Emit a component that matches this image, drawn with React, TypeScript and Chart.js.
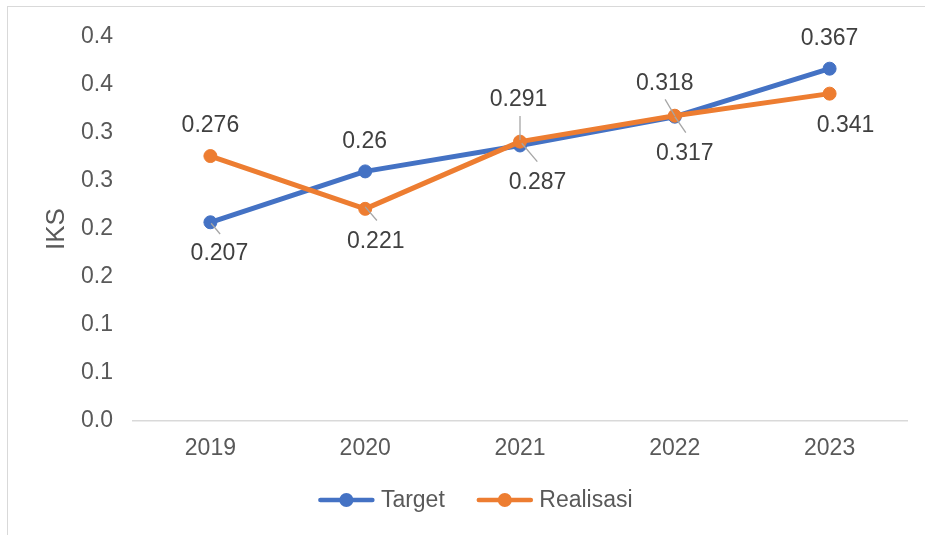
import React, { useEffect, useRef } from 'react';
import { Chart, registerables } from 'chart.js';

Chart.register(...registerables);

// ---- data ----
const categories = ['2019', '2020', '2021', '2022', '2023'];
const targetValues = [0.207, 0.26, 0.287, 0.317, 0.367];
const realisasiValues = [0.276, 0.221, 0.291, 0.318, 0.341];
const yTickLabels = ['0.0', '0.1', '0.1', '0.2', '0.2', '0.3', '0.3', '0.4', '0.4'];
const seriesNames = ['Target', 'Realisasi'];
const yAxisTitle = 'IKS';

// ---- label placement (style, relative to each point) ----
const targetLabelOffsets = [[9, 30], [-0.5, -31.4], [17.5, 35.5], [10, 34.8], [0, -32]];
const realisasiLabelOffsets = [[0, -32.5], [10.5, 31], [-1.5, -43.6], [-10, -34.2], [16, 29.9]];
const targetLeaders = [[0.7, 1, 9.7, 11.7], null, [1.7, -2.2, 17.3, 16.2], [0, 0, 11, 16], null];
const realisasiLeaders = [null, [0, -2, 11.7, 11.7], [0, -25.6, 0, -1.6], [-9.7, -16.4, 0, 0], null];

const FONT = '"Liberation Sans", Arial, Helvetica, sans-serif';
const BLUE = '#4472C4';
const ORANGE = '#ED7D31';
const TEXT = '#595959';
const LABEL = '#404040';

const framePlugin = {
  id: 'frame',
  beforeDraw(chart: any) {
    const ctx = chart.ctx;
    ctx.save();
    ctx.fillStyle = '#ffffff';
    ctx.fillRect(0, 0, chart.width, chart.height);
    ctx.strokeStyle = '#D9D9D9';
    ctx.lineWidth = 1;
    ctx.strokeRect(7.5, 6.5, 1000, 1000);
    ctx.restore();
  },
};

const valueLabelPlugin = {
  id: 'valueLabels',
  afterDatasetsDraw(chart: any) {
    const ctx = chart.ctx;
    const cfg = [
      { offsets: targetLabelOffsets, leaders: targetLeaders },
      { offsets: realisasiLabelOffsets, leaders: realisasiLeaders },
    ];
    ctx.save();
    chart.data.datasets.forEach((ds: any, di: number) => {
      const meta = chart.getDatasetMeta(di);
      meta.data.forEach((pt: any, i: number) => {
        const l = cfg[di].leaders[i];
        if (l) {
          ctx.strokeStyle = '#A6A6A6';
          ctx.lineWidth = 1.3;
          ctx.beginPath();
          ctx.moveTo(pt.x + l[0], pt.y + l[1]);
          ctx.lineTo(pt.x + l[2], pt.y + l[3]);
          ctx.stroke();
        }
      });
    });
    ctx.font = `23px ${FONT}`;
    ctx.fillStyle = LABEL;
    ctx.textAlign = 'center';
    ctx.textBaseline = 'alphabetic';
    chart.data.datasets.forEach((ds: any, di: number) => {
      const meta = chart.getDatasetMeta(di);
      meta.data.forEach((pt: any, i: number) => {
        const o = cfg[di].offsets[i];
        ctx.fillText(String(ds.data[i]), pt.x + o[0], pt.y + o[1] + 8.2);
      });
    });
    ctx.restore();
  },
};

const legendPlugin = {
  id: 'customLegend',
  afterDraw(chart: any) {
    const ctx = chart.ctx;
    const centerX = 475.5;
    const y = 500;
    const lineW = 56;
    const gapText = 6.5;
    const gapItems = 32;
    ctx.save();
    ctx.font = `23px ${FONT}`;
    const items = chart.data.datasets.map((ds: any) => ({
      text: ds.label,
      color: ds.borderColor,
      w: ctx.measureText(ds.label).width,
    }));
    const total =
      items.reduce((s: number, it: any) => s + lineW + gapText + it.w, 0) + gapItems * (items.length - 1);
    let x = centerX - total / 2;
    items.forEach((it: any) => {
      ctx.strokeStyle = it.color;
      ctx.lineWidth = 4.5;
      ctx.lineCap = 'round';
      ctx.beginPath();
      ctx.moveTo(x + 2, y);
      ctx.lineTo(x + lineW - 2, y);
      ctx.stroke();
      ctx.fillStyle = it.color;
      ctx.beginPath();
      ctx.arc(x + lineW / 2, y, 7, 0, Math.PI * 2);
      ctx.fill();
      ctx.fillStyle = TEXT;
      ctx.textAlign = 'left';
      ctx.textBaseline = 'alphabetic';
      ctx.fillText(it.text, x + lineW + gapText, y + 6.7);
      x += lineW + gapText + it.w + gapItems;
    });
    ctx.restore();
  },
};

export default function App() {
  const canvasRef = useRef<HTMLCanvasElement | null>(null);

  useEffect(() => {
    if (!canvasRef.current) return;
    const chart = new Chart(canvasRef.current, {
      type: 'line',
      data: {
        labels: categories,
        datasets: [
          {
            label: seriesNames[0],
            data: targetValues,
            borderColor: BLUE,
            backgroundColor: BLUE,
            borderWidth: 5,
            pointRadius: 6.5,
            pointBorderWidth: 1,
            pointBackgroundColor: BLUE,
            pointBorderColor: BLUE,
            borderCapStyle: 'round',
            borderJoinStyle: 'round',
            tension: 0,
            order: 1,
          },
          {
            label: seriesNames[1],
            data: realisasiValues,
            borderColor: ORANGE,
            backgroundColor: ORANGE,
            borderWidth: 5,
            pointRadius: 6.5,
            pointBorderWidth: 1,
            pointBackgroundColor: ORANGE,
            pointBorderColor: ORANGE,
            borderCapStyle: 'round',
            borderJoinStyle: 'round',
            tension: 0,
            order: 0,
          },
        ],
      },
      options: {
        responsive: false,
        animation: false,
        events: [],
        layout: { padding: { left: 0, right: 18, top: 37, bottom: 74 } },
        plugins: {
          legend: { display: false },
          tooltip: { enabled: false },
          title: { display: false },
        },
        scales: {
          x: {
            type: 'category',
            offset: true,
            grid: { display: false, drawTicks: false },
            border: { display: true, color: '#D9D9D9', width: 1.5 },
            ticks: {
              color: TEXT,
              font: { family: FONT, size: 23 },
              padding: 14,
              maxRotation: 0,
              autoSkip: false,
            },
            afterFit(scale: any) {
              scale.height = 40;
            },
          },
          y: {
            type: 'linear',
            min: 0,
            max: 0.4,
            ticks: {
              stepSize: 0.05,
              color: TEXT,
              font: { family: FONT, size: 23 },
              padding: 20,
              callback: (_v: any, i: number) => yTickLabels[i],
            },
            grid: { display: false, drawTicks: false },
            border: { display: false },
            title: {
              display: true,
              text: yAxisTitle,
              color: TEXT,
              font: { family: FONT, size: 26, weight: 'normal' },
              padding: { top: 41, bottom: 0 },
            },
            afterFit(scale: any) {
              scale.width = 133;
            },
          },
        },
      },
      plugins: [framePlugin, valueLabelPlugin, legendPlugin],
    } as any);
    return () => chart.destroy();
  }, []);

  return (
    <div
      style={{
        position: 'absolute',
        left: 0,
        top: 0,
        width: 925,
        height: 535,
        overflow: 'hidden',
        background: '#fff',
      }}
    >
      <canvas ref={canvasRef} width={925} height={535} style={{ display: 'block' }} />
    </div>
  );
}
